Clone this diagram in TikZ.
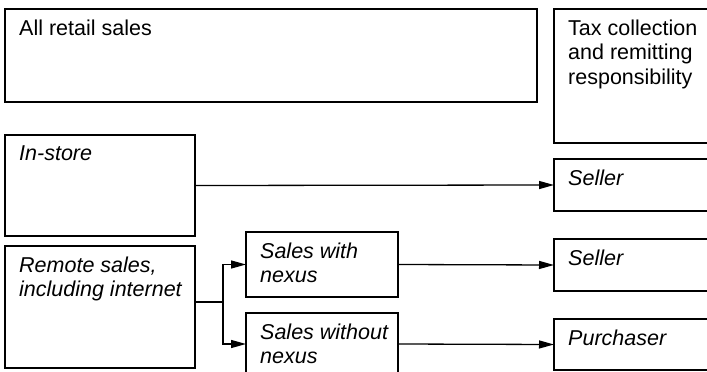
\documentclass[tikz,border=0pt]{standalone}
\usepackage{fontspec}
\setmainfont{Liberation Sans}
\usetikzlibrary{arrows.meta}

\begin{document}
\begin{tikzpicture}[x=1pt,y=-1pt,
		box/.style={draw,line width=1.2pt,anchor=north west,inner sep=0pt,outer sep=0pt},
		txt/.style={anchor=north west,align=left,inner sep=0pt,xshift=14pt,yshift=-10.5pt,font=\fontsize{21.5}{24.5}\selectfont},
		itxt/.style={txt,font=\fontsize{21.5}{24.5}\selectfont\itshape},
		plain/.style={box,label={[txt]north west:{#1}}},
		slant/.style={box,label={[itxt]north west:{#1}}},
		link/.style={line width=1.3pt,-{Triangle[length=15pt,width=8pt]}}]
		\clip (0,0) rectangle (707,372);

		% left column
		\node[plain={All retail sales},minimum width=532pt,minimum height=93pt] (all) at (5,9) {};
		\node[slant={In-store},minimum width=190pt,minimum height=101pt] (instore) at (5,135) {};
		\node[slant={Remote sales,\\including internet},minimum width=190pt,minimum height=122pt] (remote) at (5,246) {};

		% middle column
		\node[slant={Sales with\\nexus},minimum width=152pt,minimum height=65pt] (swith) at (246,232) {};
		\node[slant={Sales without\\nexus},minimum width=152pt,minimum height=62pt] (swithout) at (246,313) {};

		% right column
		\node[plain={Tax collection\\and remitting\\responsibility},minimum width=160pt,minimum height=134pt] (tax) at (554,9) {};
		\node[slant={Seller},minimum width=160pt,minimum height=52pt] (seller) at (554,159) {};
		\node[slant={Seller},minimum width=160pt,minimum height=52pt] (sellertwo) at (554,239) {};
		\node[slant={Purchaser},minimum width=160pt,minimum height=51pt] (buyer) at (554,319) {};

		\draw[link] (instore.east) -- (seller.west);
		\draw[line width=1.3pt] ([yshift=5pt]remote.east) -- ++(28,0) coordinate (split);
		\draw[link] (split) |- (swith.west);
		\draw[link] (split) |- (swithout.west);
		\draw[link] (swith.east) -- (sellertwo.west);
		\draw[link] (swithout.east) -- (buyer.west);
\end{tikzpicture}
\end{document}
